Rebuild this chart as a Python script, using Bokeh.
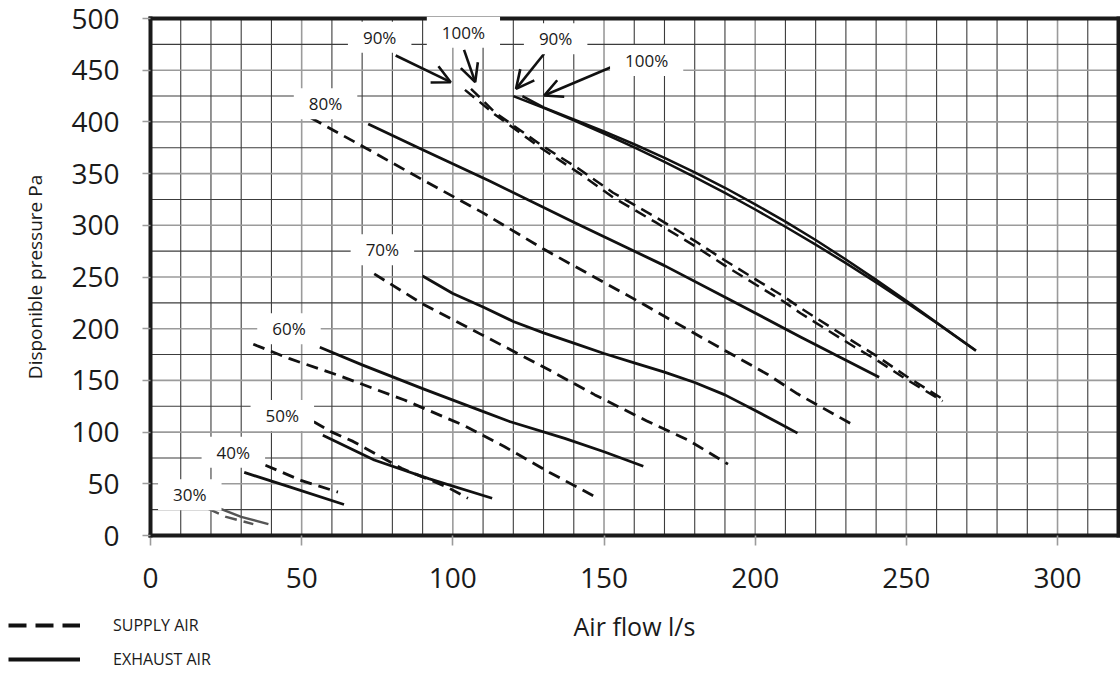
from bokeh.plotting import figure
from bokeh.models import (ColumnDataSource, Label, Arrow, OpenHead, Legend, LegendItem,
                          SingleIntervalTicker, LinearAxis, FixedTicker, Range1d)
from bokeh.embed import file_html
from bokeh.resources import INLINE

# ---------------- data ----------------
# Supply air (dashed) curves: air flow l/s -> pressure Pa
supply_100_x = [106, 114, 129, 142, 153, 167, 180, 190, 200, 209, 215, 233, 240, 250, 262]
supply_100_y = [432, 409, 378, 354, 331.5, 308, 285, 266, 248, 232, 220, 186.5, 174, 154, 132]
supply_90_x = [104, 114, 129, 142, 153, 167, 180, 190, 200, 209, 215, 233, 240, 250, 262]
supply_90_y = [431, 407, 375, 350, 327, 303, 280, 261, 243, 227, 215, 182, 170, 151, 130]
supply_80_x = [53, 71, 90, 110, 130, 161, 182, 204, 214, 233]
supply_80_y = [404, 375, 344, 312, 277, 227, 192, 156, 137, 106]
supply_70_x = [74, 90, 109, 130, 147, 164, 178, 191]
supply_70_y = [253, 224, 195, 163, 136, 111, 92, 69]
supply_60_x = [34, 46, 62, 84, 104, 117, 132, 148]
supply_60_y = [185, 171, 155, 131, 106, 86, 61, 36]
supply_50_x = [54, 60, 67, 83, 98, 105]
supply_50_y = [110, 100, 91, 65, 47, 36]
supply_40_x = [38, 50, 62]
supply_40_y = [68, 53, 42]
supply_30_x = [19, 25, 34]
supply_30_y = [26, 18, 11]

# Exhaust air (solid) curves
exhaust_100_x = [123, 130, 140, 150, 160, 170, 180, 190, 200, 210, 220, 230, 240, 250, 260, 273]
exhaust_100_y = [425, 414.1, 402.5, 390.8, 378.4, 365.3, 351.1, 336.3, 320.3, 303.6, 285.8, 266.9, 247.2, 227, 206, 179]
exhaust_90_x = [120, 130, 140, 150, 160, 170, 180, 190, 200, 210, 220, 230, 240, 250, 260, 273]
exhaust_90_y = [425, 413.6, 401.5, 388.8, 375.4, 361.3, 346.6, 331.3, 315.3, 298.6, 281.3, 263.4, 244.7, 225.5, 205.5, 178.7]
exhaust_80_x = [72, 90, 112, 140, 170, 191, 215, 241]
exhaust_80_y = [398, 373, 343, 303, 261, 229, 192, 153]
exhaust_70_x = [90, 100, 110, 120, 130, 140, 150, 160, 170, 180, 190, 200, 207, 214]
exhaust_70_y = [251, 234, 221, 207, 196, 186, 176, 167, 158, 148, 136, 121, 110, 99]
exhaust_60_x = [56, 70, 90, 109, 119, 137, 150, 163]
exhaust_60_y = [182, 165, 142, 121, 110, 94, 81, 67]
exhaust_50_x = [57, 74, 92, 113]
exhaust_50_y = [97, 73, 55, 36]
exhaust_40_x = [31, 46, 64]
exhaust_40_y = [61, 47, 30]
exhaust_30_x = [23, 30, 39]
exhaust_30_y = [26, 18, 11]

# Speed labels
label_text = ["90%", "100%", "90%", "100%", "80%", "70%", "60%", "50%", "40%", "30%"]
label_x = [75.8, 103.5, 134.0, 164.1, 57.9, 76.7, 45.8, 43.6, 27.4, 13.0]
label_y = [481.9, 486.7, 480.4, 459.4, 417.5, 276.3, 199.9, 116.0, 80.5, 39.3]

# Arrows pointing at the 90/100% curves
arrow_x0 = [81.1, 103.7, 130.2, 152.3]
arrow_y0 = [464.2, 469.7, 465.9, 452.9]
arrow_x1 = [99.3, 107.4, 120.9, 130.2]
arrow_y1 = [438.4, 438.4, 432.0, 425.5]

X_MIN, X_MAX = 0, 320
Y_MIN, Y_MAX = 0, 500
x_ticks_interval = 50
y_ticks_interval = 50
x_grid_step = 10
y_grid_step = 25
x_axis_title = "Air flow l/s"
y_axis_title = "Disponible pressure Pa"
legend_labels = ["SUPPLY AIR", "EXHAUST AIR"]

FONT = "Open Sans"
TXT = "#1a1a1a"
W, H = 1120, 675
# pixel placement of the data area inside the canvas
PX_L, PX_R, PX_T, PX_B = 150, 1117.5, 18, 535
sx = (PX_R - PX_L) / (X_MAX - X_MIN)
sy = (PX_B - PX_T) / (Y_MAX - Y_MIN)
x_range = Range1d(X_MIN - PX_L / sx, X_MAX + (W - PX_R) / sx)
y_range = Range1d(Y_MIN - (H - PX_B) / sy, Y_MAX + PX_T / sy)

p = figure(width=W, height=H, x_range=x_range, y_range=y_range,
           output_backend="svg", toolbar_location=None,
           x_axis_type=None, y_axis_type=None,
           min_border=0, min_border_left=0, min_border_right=0,
           min_border_top=0, min_border_bottom=0)
p.outline_line_color = None
p.background_fill_color = "white"
p.border_fill_color = "white"

xt = SingleIntervalTicker(interval=x_ticks_interval)
yt = SingleIntervalTicker(interval=y_ticks_interval)

# grid, limited to the data area: light lines at the labelled ticks, dark between
xg = list(range(X_MIN, X_MAX + 1, x_grid_step))
yg = list(range(Y_MIN, Y_MAX + 1, y_grid_step))
xg_major = [v for v in xg if v % x_ticks_interval == 0]
xg_minor = [v for v in xg if v % x_ticks_interval != 0]
yg_major = [v for v in yg if v % y_ticks_interval == 0]
yg_minor = [v for v in yg if v % y_ticks_interval != 0]
for vals, col, lw in ((xg_minor, "#3c3c3c", 1.1), (xg_major, "#9b9b9b", 1.6)):
    p.segment(x0=vals, x1=vals, y0=[Y_MIN] * len(vals), y1=[Y_MAX] * len(vals),
              line_color=col, line_width=lw, level="underlay")
for vals, col, lw in ((yg_minor, "#3c3c3c", 1.1), (yg_major, "#9b9b9b", 1.6)):
    p.segment(y0=vals, y1=vals, x0=[X_MIN] * len(vals), x1=[X_MAX] * len(vals),
              line_color=col, line_width=lw, level="underlay")

def style_axis(ax):
    ax.axis_line_color = "#1a1a1a"
    ax.axis_line_width = 4
    ax.axis_line_cap = "square"
    ax.major_tick_line_color = "#9b9b9b"
    ax.major_tick_line_width = 1.6
    ax.major_tick_in = 0
    ax.minor_tick_line_color = None
    ax.minor_tick_out = 0
    ax.minor_tick_in = 0
    ax.major_label_text_font = FONT
    ax.major_label_text_font_size = "28px"
    ax.major_label_text_color = TXT
    ax.axis_label_text_font = FONT
    ax.axis_label_text_font_style = "normal"
    ax.axis_label_text_color = TXT

xaxis = LinearAxis(ticker=xt, fixed_location=Y_MIN, bounds=(X_MIN, X_MAX))
style_axis(xaxis)
xaxis.major_tick_out = 10
xaxis.major_label_standoff = 22
xaxis.axis_label = x_axis_title
xaxis.axis_label_text_font_size = "25px"
xaxis.axis_label_standoff = 18
p.add_layout(xaxis, "below")

yaxis = LinearAxis(ticker=yt, fixed_location=X_MIN, bounds=(Y_MIN, Y_MAX))
style_axis(yaxis)
yaxis.major_tick_out = 8
yaxis.major_label_standoff = 23
yaxis.axis_label = y_axis_title
yaxis.axis_label_text_font_size = "19px"
yaxis.axis_label_standoff = 20
p.add_layout(yaxis, "left")

for side, loc, bnd in (("right", X_MAX, (Y_MIN, Y_MAX)), ("above", Y_MAX, (X_MIN, X_MAX))):
    a = LinearAxis(ticker=FixedTicker(ticks=[]), fixed_location=loc, bounds=bnd,
                   major_label_text_font_size="0px",
                   major_tick_out=0, major_tick_in=0, minor_tick_out=0, minor_tick_in=0,
                   axis_line_color="#1a1a1a", axis_line_width=4, axis_line_cap="square")
    p.add_layout(a, side)

DASH = "12 7"
LW = 2.8

def curve(xs, ys, dashed, color="#111111", lw=LW):
    src = ColumnDataSource(dict(x=xs, y=ys))
    return p.line("x", "y", source=src, line_color=color, line_width=lw,
                  line_dash=DASH if dashed else "solid", line_cap="butt", line_join="round")

supply = [(supply_80_x, supply_80_y), (supply_70_x, supply_70_y),
          (supply_60_x, supply_60_y), (supply_50_x, supply_50_y), (supply_40_x, supply_40_y)]
exhaust = [(exhaust_80_x, exhaust_80_y), (exhaust_70_x, exhaust_70_y),
           (exhaust_60_x, exhaust_60_y), (exhaust_50_x, exhaust_50_y), (exhaust_40_x, exhaust_40_y)]
for xs, ys in supply:
    curve(xs, ys, True)
for xs, ys in exhaust:
    curve(xs, ys, False)
curve(supply_100_x, supply_100_y, True, lw=2.5)
curve(supply_90_x, supply_90_y, True, lw=2.5)
curve(exhaust_100_x, exhaust_100_y, False, lw=2.5)
curve(exhaust_90_x, exhaust_90_y, False, lw=2.5)
curve(supply_30_x, supply_30_y, True, color="#555555", lw=2.4)
curve(exhaust_30_x, exhaust_30_y, False, color="#555555", lw=2.4)

# arrows
asrc = ColumnDataSource(dict(x0=arrow_x0, y0=arrow_y0, x1=arrow_x1, y1=arrow_y1))
p.add_layout(Arrow(x_start="x0", y_start="y0", x_end="x1", y_end="y1", source=asrc,
                   line_width=2.6, line_color="#111111",
                   end=OpenHead(size=18, line_width=2.6, line_color="#111111")))

# labels with white boxes
for t, lx, ly in zip(label_text, label_x, label_y):
    p.add_layout(Label(x=lx, y=ly, text=t, text_font=FONT, text_font_size="17px",
                       text_color=TXT, text_align="center", text_baseline="middle",
                       background_fill_color="white", padding=dict(x=15, y=4)))

# line-style legend (below the chart, left)
nan = float("nan")
leg_supply = p.line(x=[nan], y=[nan], line_color="#111111", line_width=4, line_dash="18 9")
leg_exhaust = p.line(x=[nan], y=[nan], line_color="#111111", line_width=4)
legend = Legend(items=[LegendItem(label=legend_labels[0], renderers=[leg_supply]),
                       LegendItem(label=legend_labels[1], renderers=[leg_exhaust])],
                location=(8, 5), orientation="vertical",
                glyph_width=72, glyph_height=20, label_standoff=33, spacing=12,
                padding=0, margin=0, border_line_color=None, background_fill_alpha=0,
                label_text_font=FONT, label_text_font_size="16px", label_text_color=TXT)
p.add_layout(legend)

open("out.html", "w").write(file_html(p, INLINE))
